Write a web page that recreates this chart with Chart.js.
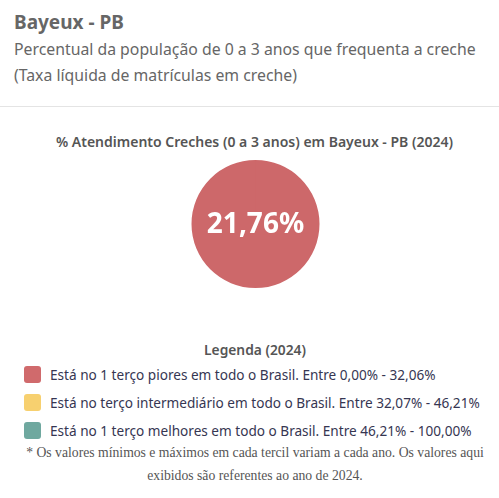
<!DOCTYPE html>
<html>
<head>
<meta charset="utf-8">
<script src="https://cdn.jsdelivr.net/npm/chart.js@4"></script>
<style>
  html, body { margin: 0; padding: 0; background: #fff; }
  body { width: 499px; height: 498px; position: relative; overflow: hidden; font-family: "Noto Sans", sans-serif; }
  .abs { position: absolute; white-space: nowrap; }
  #city { left: 14px; top: 9px; font-size: 19px; font-weight: 700; color: #666; }
  .sub { left: 14px; font-size: 15.8px; color: #666; }
  #sep { left: 0; top: 106px; width: 499px; height: 1px; background: #e4e4e4; }
  #chartTitle { left: 0; width: 509px; top: 132px; text-align: center; font-size: 14px; font-weight: 600; color: #555; }
  #chartBox { left: 0; top: 150px; width: 499px; height: 148px; }
  #legTitle { left: 0; width: 510px; top: 340px; text-align: center; font-size: 13.8px; font-weight: 600; color: #555; }
  .legRow { left: 24px; font-size: 13.6px; color: #363652; display: flex; align-items: center; }
  .sw { width: 17px; height: 17px; border-radius: 3px; margin-right: 9px; }
  .note { left: 0; width: 510px; text-align: center; font-family: "Liberation Serif", serif; font-size: 13.7px; color: #555; }
</style>
</head>
<body>
<div class="abs" id="city">Bayeux - PB</div>
<div class="abs sub" style="top:38px">Percentual da população de 0 a 3 anos que frequenta a creche</div>
<div class="abs sub" style="top:64px">(Taxa líquida de matrículas em creche)</div>
<div class="abs" id="sep"></div>
<div class="abs" id="chartTitle">% Atendimento Creches (0 a 3 anos) em Bayeux - PB (2024)</div>
<div class="abs" id="chartBox"><canvas id="c"></canvas></div>
<div class="abs" id="legTitle">Legenda (2024)</div>
<div id="legend"></div>
<div class="abs note" style="top:445px">* Os valores mínimos e máximos em cada tercil variam a cada ano. Os valores aqui</div>
<div class="abs note" style="top:468px">exibidos são referentes ao ano de 2024.</div>
<script>
const categories = ["Bayeux - PB"];
const values = [21.76];
const valueLabels = ["21,76%"];
const sliceColors = ["#cd686a"];

const legendLabels = [
  "Está no 1 terço piores em todo o Brasil. Entre 0,00% - 32,06%",
  "Está no terço intermediário em todo o Brasil. Entre 32,07% - 46,21%",
  "Está no 1 terço melhores em todo o Brasil. Entre 46,21% - 100,00%"
];
const legendColors = ["#d06a6c", "#f7d06f", "#6fa89f"];
const legendTops = [365, 393, 421];

const legendEl = document.getElementById("legend");
legendLabels.forEach(function (txt, i) {
  const row = document.createElement("div");
  row.className = "abs legRow";
  row.style.top = legendTops[i] + "px";
  row.innerHTML = '<span class="sw" style="background:' + legendColors[i] + '"></span>' + txt;
  legendEl.appendChild(row);
});

// escreve o valor no centro do círculo
const centerLabel = {
  id: "centerLabel",
  afterDatasetsDraw(chart) {
    const arc = chart.getDatasetMeta(0).data[0];
    if (!arc) return;
    const ctx = chart.ctx;
    ctx.save();
    ctx.fillStyle = "#fff";
    ctx.font = "bold 28px 'Noto Sans', sans-serif";
    ctx.textAlign = "center";
    ctx.textBaseline = "middle";
    ctx.fillText(valueLabels[0], arc.x, arc.y + 1);
    ctx.restore();
  }
};

new Chart(document.getElementById("c"), {
  type: "pie",
  data: {
    labels: categories,
    datasets: [{
      data: values,
      backgroundColor: sliceColors,
      borderWidth: 0
    }]
  },
  options: {
    responsive: true,
    maintainAspectRatio: false,
    animation: false,
    layout: { padding: { top: 10, bottom: 10, left: 12, right: 0 } },
    plugins: { legend: { display: false }, tooltip: { enabled: false } }
  },
  plugins: [centerLabel]
});
</script>
</body>
</html>
